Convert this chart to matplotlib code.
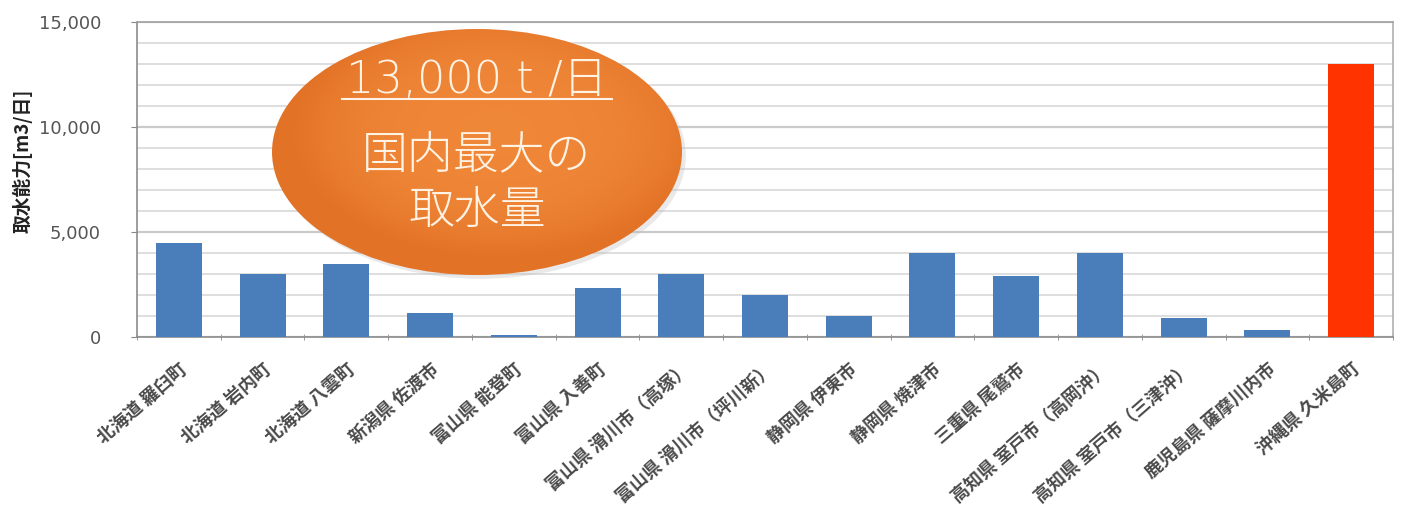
import matplotlib
matplotlib.use("Agg")
import matplotlib.pyplot as plt
import numpy as np
from matplotlib.patches import Ellipse
from matplotlib.ticker import MultipleLocator, FuncFormatter

plt.rcParams['font.family'] = ['Noto Sans CJK JP', 'DejaVu Sans']

categories = ["北海道 羅臼町", "北海道 岩内町", "北海道 八雲町", "新潟県 佐渡市", "富山県 能登町",
              "富山県 入善町", "富山県 滑川市（高塚）", "富山県 滑川市（坪川新）", "静岡県 伊東市",
              "静岡県 焼津市", "三重県 尾鷲市", "高知県 室戸市（高岡沖）", "高知県 室戸市（三津沖）",
              "鹿児島県 薩摩川内市", "沖縄県 久米島町"]
values = [4500, 3000, 3500, 1150, 100, 2350, 3000, 2000, 1000, 4000, 2900, 4000, 900, 350, 13000]
highlight = "沖縄県 久米島町"
ylabel = "取水能力[m3/日]"
callout_lines = ["13,000 t /日", "国内最大の", "取水量"]

fig = plt.figure(figsize=(14.05, 5.2), dpi=100)
ax = fig.add_axes([137/1405, 1-337/520, (1393-137)/1405, (337-22)/520])

x = np.arange(len(categories))
colors = ["#FF3300" if c == highlight else "#4A7EBB" for c in categories]
ax.bar(x, values, width=0.55, color=colors, zorder=3)

ax.set_xlim(-0.5, len(categories) - 0.5)
ax.set_ylim(0, 15000)
ax.yaxis.set_major_locator(MultipleLocator(5000))
ax.yaxis.set_minor_locator(MultipleLocator(1000))
ax.yaxis.set_major_formatter(FuncFormatter(lambda v, p: f"{int(v):,}"))
ax.grid(axis='y', which='minor', color='#DEDEDE', lw=1.4, zorder=0)
ax.grid(axis='y', which='major', color='#CACACA', lw=1.6, zorder=0)
ax.set_axisbelow(True)

ax.set_xticks(x)
ax.set_xticklabels(categories, rotation=41, ha='right', va='top', rotation_mode='anchor',
                   fontsize=13, fontweight='bold', color='#4A4A4A')
ax.set_xticks(np.arange(-0.5, len(categories)), minor=True)
ax.tick_params(axis='x', which='major', length=0, pad=16)
ax.tick_params(axis='x', which='minor', length=5, color='#888888', direction='inout')
ax.tick_params(axis='y', which='major', length=4, color='#888888', labelsize=13,
               labelcolor='#555555', pad=22)
ax.tick_params(axis='y', which='minor', length=0)
for lab in ax.get_yticklabels():
    lab.set_family('DejaVu Sans')

for s in ['left', 'bottom', 'top', 'right']:
    ax.spines[s].set_color('#8C8C8C')
    ax.spines[s].set_linewidth(1.2)
ax.spines['top'].set_color('#A0A0A0')
ax.spines['right'].set_color('#B0B0B0')

ax.set_ylabel(ylabel, fontsize=13.5, fontweight='bold', color='#222222')
ax.yaxis.set_label_coords(-(137-33)/1256, (337-161)/315)

# callout ellipse with gradient
cx, cy = (477-137)/1256, (337-152)/315
ew, eh = 410/1256, 246/315
ell = Ellipse((cx, cy), ew, eh, transform=ax.transAxes, facecolor='none',
              edgecolor='none', zorder=5)
ax.add_patch(ell)
shadow = Ellipse((cx + 0.003, cy - 0.012), ew, eh, transform=ax.transAxes,
                 facecolor='#C0C0C0', edgecolor='none', alpha=0.35, zorder=4)
ax.add_patch(shadow)
gy, gx = np.mgrid[-1:1:200j, -1:1:200j]
r = np.clip(np.sqrt((gx - 0.1)**2 + (gy + 0.15)**2), 0, 1)
c0 = np.array([0.94, 0.53, 0.22])
c1 = np.array([0.89, 0.45, 0.15])
img = c0[None, None, :] * (1 - r[..., None]**3) + c1[None, None, :] * (r[..., None]**3)
im = ax.imshow(img, extent=[cx - ew/2, cx + ew/2, cy - eh/2, cy + eh/2],
               transform=ax.transAxes, zorder=5, aspect='auto', interpolation='bilinear')
im.set_clip_path(ell)

tc = '#FFF3E6'
fig.text(477/1405, 1-80/520, callout_lines[0], ha='center', va='center', fontsize=32,
         color=tc, family=['DejaVu Sans', 'Noto Sans CJK JP'], fontweight='light', zorder=10)
fig.add_artist(plt.Line2D([342/1405, 612/1405], [1-99/520, 1-99/520], color=tc, lw=1.5,
                          transform=fig.transFigure, zorder=10))
fig.text(477/1405, 1-156/520, callout_lines[1], ha='center', va='center', fontsize=33,
         color=tc, fontweight='light', zorder=10)
fig.text(477/1405, 1-211/520, callout_lines[2], ha='center', va='center', fontsize=33,
         color=tc, fontweight='light', zorder=10)

fig.savefig("out.png", dpi=100, facecolor='white')
